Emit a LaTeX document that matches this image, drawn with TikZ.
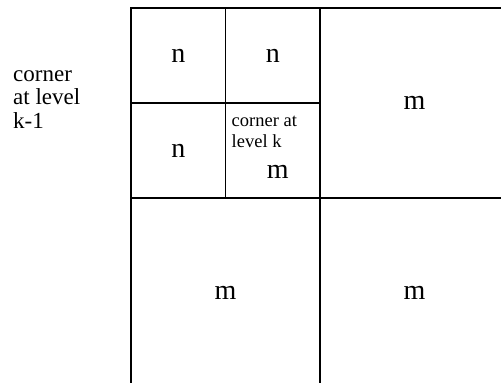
\documentclass[tikz,border=0pt]{standalone}
\usepackage{fontspec}
\setmainfont{Liberation Serif}
\usetikzlibrary{positioning}

\begin{document}
\begin{tikzpicture}[x=1pt, y=-1pt,
    cell/.style={draw, line width=1.2pt, inner sep=0pt, outer sep=0pt,
                 font=\fontsize{28}{30}\selectfont},
    quad/.style={cell, minimum width=94.5pt, minimum height=95pt},
    big/.style={cell, minimum width=189pt, minimum height=190pt},
    note/.style={inner sep=0pt, align=left}]
  \useasboundingbox (0,0) rectangle (501,383);
  \clip (0,0) rectangle (501,383);

  % label of the outer corner
  \node[note, anchor=base west, font=\fontsize{23}{23.5}\selectfont]
    (labelOuter) at (13,128) {corner\\at level\\k-1};

  % corner at level k-1: four quadrants
  \node[quad] (nTL) at (178.25,55.5) {n};
  \node[quad, right=0pt of nTL] (nTR) {n};
  \node[quad, below=0pt of nTL] (nBL) {n};
  \node[quad, right=0pt of nBL] (cornerK) {};
  \node[note, anchor=base west, font=\fontsize{18.5}{21}\selectfont]
    (labelK) at ([shift={(6,44.5)}]cornerK.north west) {corner at\\level k};
  \node[font=\fontsize{28}{30}\selectfont, inner sep=0pt, anchor=base]
    (mK) at ([shift={(5,28)}]cornerK.center) {m};

  % the other three blocks
  \node[big, anchor=north west] (mTR) at (nTR.north east) {m};
  \node[big, anchor=north west] (mBL) at (nBL.south west) {m};
  \node[big, anchor=north west] (mBR) at (cornerK.south east) {m};
\end{tikzpicture}
\end{document}
